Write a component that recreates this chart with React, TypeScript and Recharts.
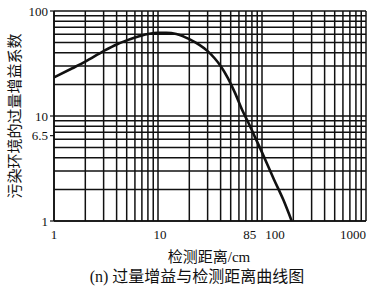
import React from 'react';
import { LineChart, Line, XAxis, YAxis, ReferenceLine } from 'recharts';

// Detection distance (cm) and excess gain coefficient
const distance = [1, 1.5, 2, 3, 4, 5, 6, 7, 8, 10, 12, 15, 20, 25, 30, 35, 40, 47, 55, 65, 75, 85, 100, 130, 160, 193];
const gain = [23.3, 28.5, 33, 41.5, 48, 52.5, 56, 58.5, 60.3, 62, 62, 60.5, 54, 47.5, 41.5, 35.5, 30, 23, 16.6, 11.2, 8.4, 6.4, 4.5, 2.5, 1.6, 1];

const xTicks = [1, 10, 85, 100, 1000];
const yTicks = [1, 6.5, 10, 100];
const xGrid = [1, 2, 3, 4, 5, 6, 7, 8, 9, 10, 20, 30, 40, 50, 60, 70, 80, 90, 100, 200, 300, 400, 500, 600, 700, 800, 900, 1000];
const yGrid = [1, 2, 3, 4, 5, 6, 7, 8, 9, 10, 20, 30, 40, 50, 60, 70, 80, 90, 100];

const yTitle = '污染环境的过量增益系数';
const xTitle = '检测距离/cm';
const caption = '(n) 过量增益与检测距离曲线图';

const data = distance.map((d, i) => ({ x: d, y: gain[i] }));

const FONT = '"Liberation Serif", "Noto Sans CJK SC", serif';
const INK = '#111';

const xLabelShift: Record<number, number> = { 1: 0, 10: 2, 85: -5, 100: 13, 1000: -13 };

const XTick = (props: any) => {
  const { x, y, payload } = props;
  const dx = xLabelShift[payload.value] ?? 0;
  return (
    <text x={x + dx} y={y} dy="0.71em" textAnchor="middle" fontSize={13} fontFamily={FONT} fill={INK}>
      {payload.value}
    </text>
  );
};

const YTick = (props: any) => {
  const { x, y, payload } = props;
  return (
    <text x={x} y={y} dy="0.36em" textAnchor="end" fontSize={13} fontFamily={FONT} fill={INK}>
      {payload.value}
    </text>
  );
};

export default function App() {
  return (
    <div style={{ position: 'absolute', left: 0, top: 0, width: 385, height: 288, background: '#fff' }}>
      <LineChart width={385} height={288} data={data} margin={{ top: 11, right: 19, bottom: 37, left: 0 }}>
        {xGrid.map((v) => (
          <ReferenceLine key={'gx' + v} x={v} stroke={INK} strokeWidth={1.5} />
        ))}
        {yGrid.map((v) => (
          <ReferenceLine key={'gy' + v} y={v} stroke={INK} strokeWidth={1.5} />
        ))}
        <XAxis
          dataKey="x"
          type="number"
          scale="log"
          domain={[1, 1000]}
          ticks={xTicks}
          allowDataOverflow
          tickLine={false}
          axisLine={{ stroke: INK, strokeWidth: 1.6 }}
          tick={<XTick />}
          tickMargin={3}
          height={30}
          interval={0}
        />
        <YAxis
          dataKey="y"
          type="number"
          scale="log"
          domain={[1, 100]}
          ticks={yTicks}
          allowDataOverflow
          width={54}
          tickSize={4}
          tickLine={{ stroke: INK, strokeWidth: 1.2 }}
          axisLine={{ stroke: INK, strokeWidth: 1.6 }}
          tick={<YTick />}
          tickMargin={2}
          interval={0}
        />
        <Line
          dataKey="y"
          type="monotone"
          stroke={INK}
          strokeWidth={2.6}
          dot={false}
          isAnimationActive={false}
        />
      </LineChart>
      <div
        style={{
          position: 'absolute',
          left: 15,
          top: 116,
          transform: 'translate(-50%, -50%) rotate(-90deg)',
          whiteSpace: 'nowrap',
          fontFamily: FONT,
          fontSize: 15,
          color: INK,
          lineHeight: 1,
        }}
      >
        {yTitle}
      </div>
      <div
        style={{
          position: 'absolute',
          left: 209,
          top: 257,
          transform: 'translate(-50%, -50%)',
          whiteSpace: 'nowrap',
          fontFamily: FONT,
          fontSize: 15,
          color: INK,
          lineHeight: 1,
        }}
      >
        {xTitle}
      </div>
      <div
        style={{
          position: 'absolute',
          left: 197,
          top: 277,
          transform: 'translate(-50%, -50%)',
          whiteSpace: 'nowrap',
          fontFamily: FONT,
          fontSize: 16,
          color: INK,
          lineHeight: 1,
        }}
      >
        {caption}
      </div>
    </div>
  );
}
